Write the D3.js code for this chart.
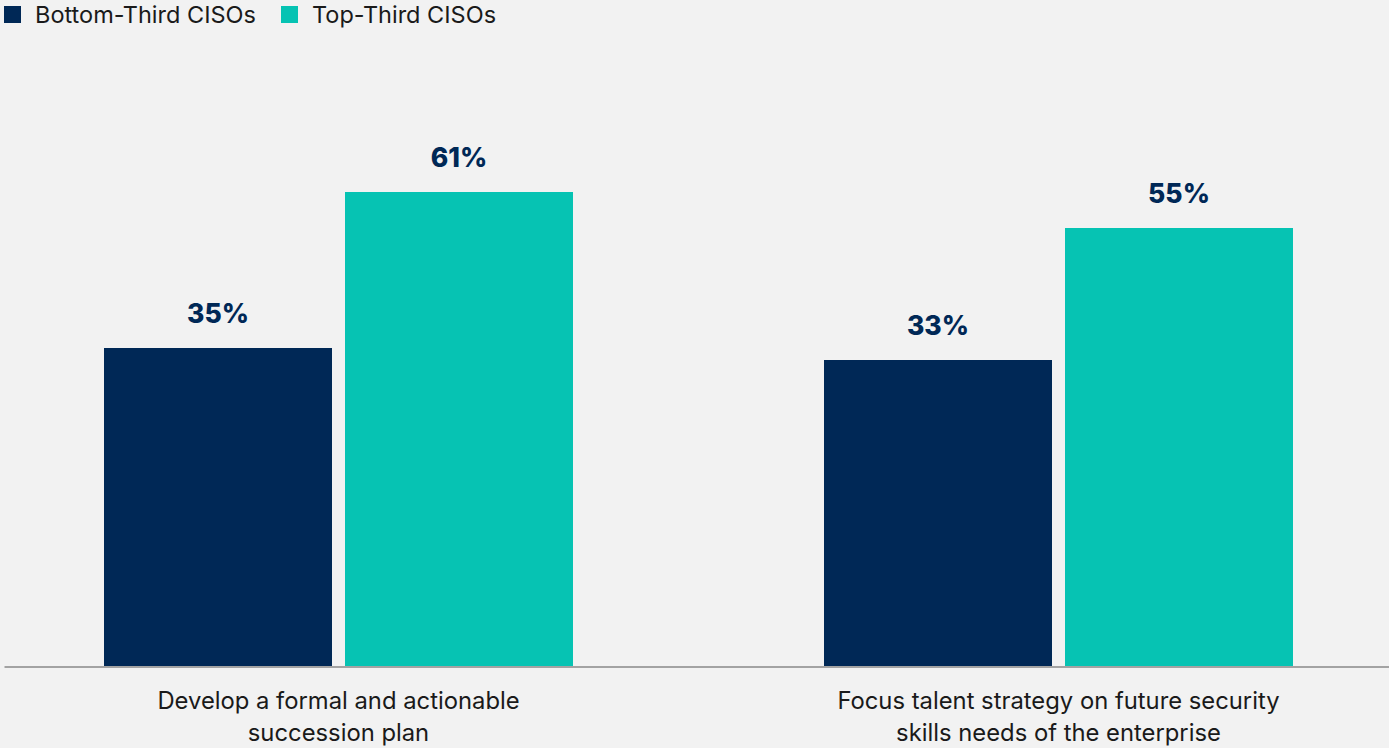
<!DOCTYPE html>
<html>
<head>
<meta charset="utf-8">
<script src="https://cdn.jsdelivr.net/npm/d3@7"></script>
<style>
  html, body { margin: 0; padding: 0; background: #f2f2f2; }
  svg { display: block; }
</style>
</head>
<body>
<svg id="chart" width="1389" height="748"></svg>
<script>
// Chart data
const categories = [
  ["Develop a formal and actionable", "succession plan"],
  ["Focus talent strategy on future security", "skills needs of the enterprise"]
];
const seriesNames = ["Bottom-Third CISOs", "Top-Third CISOs"];
const bottomThird = [35, 33];
const topThird = [61, 55];
const seriesColors = ["#002856", "#06c3b3"];

const W = 1389, H = 748;
const svg = d3.select("#chart");
svg.append("rect").attr("width", W).attr("height", H).attr("fill", "#f2f2f2");

const baseY = 666;
const x0 = d3.scaleBand().domain(d3.range(categories.length)).range([-21.5, 1418.5]).padding(0);
const x1 = d3.scaleBand().domain(seriesNames).range([125.5, 594.5]).paddingInner(13 / 241);
const y = d3.scaleLinear().domain([-18, 70]).range([baseY, 138]);

const rows = categories.map((c, i) => ({ i, values: [bottomThird[i], topThird[i]] }));

const g = svg.append("g");
const groups = g.selectAll("g.grp").data(rows).join("g")
  .attr("class", "grp")
  .attr("transform", d => `translate(${x0(d.i)},0)`);

groups.selectAll("rect").data(d => d.values.map((v, k) => ({ v, k })))
  .join("rect")
  .attr("x", d => x1(seriesNames[d.k]))
  .attr("width", x1.bandwidth())
  .attr("y", d => y(d.v))
  .attr("height", d => y(-18) - y(d.v))
  .attr("fill", d => seriesColors[d.k]);

groups.selectAll("text.val").data(d => d.values.map((v, k) => ({ v, k })))
  .join("text")
  .attr("class", "val")
  .attr("x", d => x1(seriesNames[d.k]) + x1.bandwidth() / 2)
  .attr("y", d => y(d.v) - 25)
  .attr("text-anchor", "middle")
  .attr("font-family", "Inter, 'Noto Sans', sans-serif")
  .attr("font-weight", 800)
  .attr("font-size", 26.5)
  .attr("fill", "#002856")
  .text(d => d.v + "%");

// Baseline axis
const xAxis = d3.axisBottom(d3.scaleLinear().range([4, W])).ticks(0).tickSize(0);
const ax = svg.append("g").attr("transform", `translate(0,${baseY + 0.5})`).call(xAxis);
ax.select(".domain").attr("stroke", "#a3a3a3").attr("stroke-width", 2);
ax.selectAll(".tick").remove();

// Category labels
const labels = svg.selectAll("text.cat").data(categories).join("text")
  .attr("class", "cat")
  .attr("x", (d, i) => x0(i) + x0.bandwidth() / 2)
  .attr("y", 709)
  .attr("text-anchor", "middle")
  .attr("font-family", "Inter, sans-serif")
  .attr("font-size", 23.8)
  .attr("fill", "#1a1a1a");
labels.selectAll("tspan").data(d => d).join("tspan")
  .attr("x", function () { return d3.select(this.parentNode).attr("x"); })
  .attr("dy", (d, j) => j === 0 ? 0 : 31.5)
  .text(d => d);

// Legend
const legendX = [4, 281];
const leg = svg.selectAll("g.leg").data(seriesNames).join("g")
  .attr("class", "leg")
  .attr("transform", (d, i) => `translate(${legendX[i]},0)`);
leg.append("rect").attr("x", 0).attr("y", 6).attr("width", 17).attr("height", 17)
  .attr("fill", (d, i) => seriesColors[i]);
leg.append("text").attr("x", 31).attr("y", 23)
  .attr("font-family", "Inter, sans-serif")
  .attr("font-size", 23.5)
  .attr("fill", "#1a1a1a")
  .text(d => d);
</script>
</body>
</html>
